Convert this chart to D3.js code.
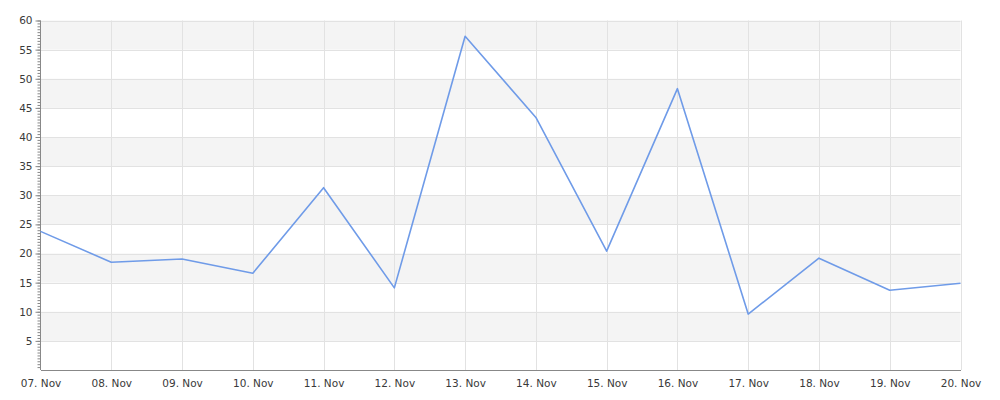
<!DOCTYPE html>
<html>
<head>
<meta charset="utf-8">
<script src="https://cdn.jsdelivr.net/npm/d3@7"></script>
<style>
  body { margin: 0; background: #fff; }
  svg { display: block; }
</style>
</head>
<body>
<div id="chart"></div>
<script>
const width = 1000
const height = 400

// data
const days = ["07. Nov","08. Nov","09. Nov","10. Nov","11. Nov","12. Nov","13. Nov",
              "14. Nov","15. Nov","16. Nov","17. Nov","18. Nov","19. Nov","20. Nov"]
const values = [23.8, 18.5, 19.05, 16.6, 31.3, 14.1, 57.3, 43.35, 20.4, 48.3, 9.6, 19.2, 13.7, 14.9]
const yTicks = [5,10,15,20,25,30,35,40,45,50,55,60]

const margin = {top: 20.5, right: 39.5, bottom: 30, left: 40.5}
const font = "DejaVu Sans, sans-serif"

const svg = d3.select("#chart").append("svg")
  .attr("width", width)
  .attr("height", height)

const x = d3.scalePoint()
  .domain(days)
  .range([margin.left, width - margin.right])

const y = d3.scaleLinear()
  .domain([0, 60])
  .range([height - margin.bottom, margin.top])

/* alternating bands */
const bands = d3.range(0, 60, 5)
svg.append("g")
  .selectAll("rect")
  .data(bands.filter(d => (d / 5) % 2 === 1))
  .join("rect")
  .attr("x", margin.left)
  .attr("width", width - margin.right - margin.left)
  .attr("y", d => y(d + 5))
  .attr("height", d => y(d) - y(d + 5))
  .attr("fill", "#f4f4f4")

/* grid */
svg.append("g")
  .selectAll("line")
  .data(yTicks)
  .join("line")
  .attr("x1", margin.left)
  .attr("x2", width - margin.right)
  .attr("y1", d => Math.round(y(d)) + 0.5)
  .attr("y2", d => Math.round(y(d)) + 0.5)
  .attr("stroke", "#e2e2e2")

svg.append("g")
  .selectAll("line")
  .data(days.slice(1))
  .join("line")
  .attr("x1", d => Math.round(x(d)) + 0.5)
  .attr("x2", d => Math.round(x(d)) + 0.5)
  .attr("y1", margin.top)
  .attr("y2", y(0))
  .attr("stroke", "#e2e2e2")

/* y axis with minor ticks */
const yAxisG = svg.append("g")
  .attr("transform", `translate(${margin.left},0)`)

yAxisG.append("g")
  .call(d3.axisLeft(y).tickValues(d3.range(0.5, 60.01, 0.5)).tickSize(3).tickFormat(""))
  .call(g => g.select(".domain").remove())
  .call(g => g.selectAll("line").attr("stroke", "#888"))

yAxisG.append("g")
  .call(d3.axisLeft(y).tickValues(yTicks).tickSize(5).tickPadding(3))
  .attr("font-family", font)
  .call(g => g.select(".domain").attr("stroke", "#888").attr("d", `M0,${margin.top}V${y(0)}`))
  .call(g => g.selectAll("line").attr("stroke", "#888"))
  .call(g => g.selectAll("text").attr("fill", "#3a3a3a").style("font-size", "10.5px"))

/* x axis */
svg.append("g")
  .attr("transform", `translate(0,${y(0)})`)
  .call(d3.axisBottom(x).tickSize(0).tickPadding(10))
  .attr("font-family", font)
  .call(g => g.select(".domain").attr("stroke", "#888"))
  .call(g => g.selectAll("text").attr("fill", "#3a3a3a").style("font-size", "10.5px"))

/* line */
const line = d3.line()
  .x((d, i) => x(days[i]))
  .y(d => y(d))

svg.append("path")
  .datum(values)
  .attr("fill", "none")
  .attr("stroke", "#6f9be8")
  .attr("stroke-width", 1.6)
  .attr("stroke-linejoin", "round")
  .attr("d", line)
</script>
</body>
</html>
